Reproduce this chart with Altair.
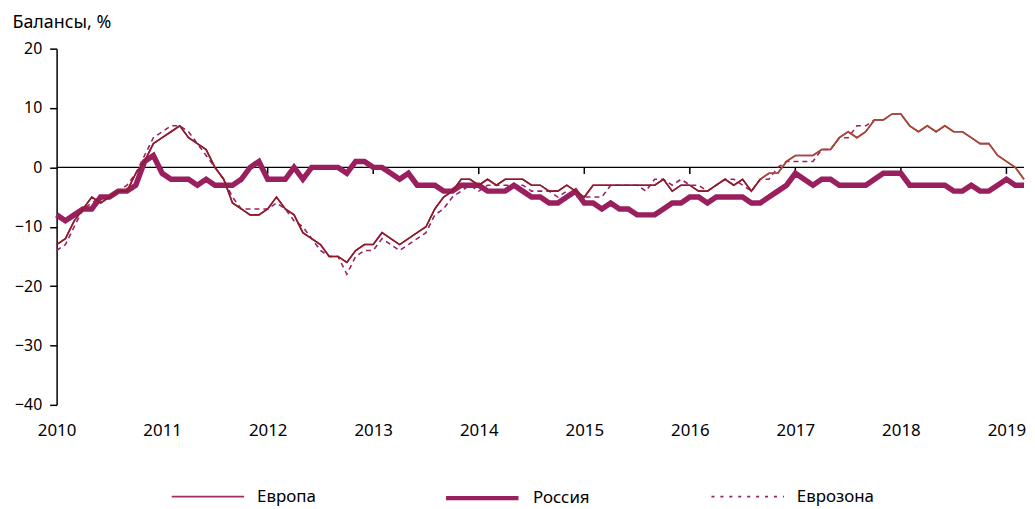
import altair as alt
import pandas as pd

START_YEAR = 2010
years = list(range(2010, 2020))

# monthly balances, Jan 2010 onwards
europe = [-13, -12, -9, -7, -5, -6, -5, -4, -4, -1, 1, 4,
          5, 6, 7, 5, 4, 3, 0, -2, -6, -7, -8, -8,
          -7, -5, -7, -8, -11, -12, -13, -15, -15, -16, -14, -13,
          -13, -11, -12, -13, -12, -11, -10, -7, -5, -4, -2, -2,
          -3, -2, -3, -2, -2, -2, -3, -3, -4, -4, -3, -4,
          -5, -3, -3, -3, -3, -3, -3, -3, -3, -2, -4, -3,
          -3, -4, -4, -3, -2, -3, -2, -4, -2, -1, -1, 1,
          2, 2, 2, 3, 3, 5, 6, 5, 6, 8, 8, 9,
          9, 7, 6, 7, 6, 7, 6, 6, 5, 4, 4, 2,
          1, 0, -2]
russia = [-8, -9, -8, -7, -7, -5, -5, -4, -4, -3, 1, 2,
          -1, -2, -2, -2, -3, -2, -3, -3, -3, -2, 0, 1,
          -2, -2, -2, 0, -2, 0, 0, 0, 0, -1, 1, 1,
          0, 0, -1, -2, -1, -3, -3, -3, -4, -4, -3, -3,
          -3, -4, -4, -4, -3, -4, -5, -5, -6, -6, -5, -4,
          -6, -6, -7, -6, -7, -7, -8, -8, -8, -7, -6, -6,
          -5, -5, -6, -5, -5, -5, -5, -6, -6, -5, -4, -3,
          -1, -2, -3, -2, -2, -3, -3, -3, -3, -2, -1, -1,
          -1, -3, -3, -3, -3, -3, -4, -4, -3, -4, -4, -3,
          -2, -3, -3]
eurozone = [-14, -13, -10, -7, -6, -5, -5, -4, -3, -1, 2, 5,
            6, 7, 7, 6, 4, 2, 0, -2, -5, -7, -7, -7,
            -7, -6, -7, -9, -10, -12, -14, -15, -15, -18, -15, -14,
            -14, -12, -13, -14, -13, -12, -11, -8, -7, -5, -4, -3,
            -4, -3, -3, -3, -3, -3, -4, -4, -4, -5, -4, -5,
            -5, -5, -5, -3, -3, -3, -3, -4, -2, -2, -3, -2,
            -3, -3, -4, -3, -2, -2, -3, -4, -2, -2, 0, 1,
            1, 1, 1, 3, 3, 5, 5, 7, 7, 8]
EUROPE_SWITCH = 80  # month index where the Europe line changes colour

FONT = "Noto Sans"
C_EU_EARLY = "#8C1C27"
C_EU_LATE = "#A84A30"
C_RU = "#9A1F5E"
C_EZ = "#9A2065"
C_EU_LEGEND = "#A22C68"


def frame(vals, name):
    return pd.DataFrame({
        "t": [START_YEAR + i / 12 for i in range(len(vals))],
        "v": vals,
        "series": name,
    })


df_ru = frame(russia, "Россия")
df_ez = frame(eurozone, "Еврозона")
df_eu = frame(europe, "Европа")
df_eu1 = df_eu.iloc[:EUROPE_SWITCH + 1]
df_eu2 = df_eu.iloc[EUROPE_SWITCH:]
ticks_df = pd.DataFrame({"t": years[1:]})

x_scale = alt.Scale(domain=[START_YEAR, START_YEAR + (len(europe) - 1) / 12], nice=False, zero=False)
y_scale = alt.Scale(domain=[-40, 20], nice=False, zero=False)

x_axis = alt.Axis(values=years, format="d", domain=False, ticks=False, grid=False,
                  labelPadding=18, labelFontSize=17, labelColor="black", labelFont=FONT,
                  labelFlush=False, labelOverlap=False, title=None)
y_axis = alt.Axis(values=list(range(-40, 21, 10)), grid=False, domainColor="black",
                  domainWidth=1.5, tickColor="black", tickWidth=1.5, tickSize=7,
                  labelPadding=8, labelFontSize=16, labelColor="black", labelFont=FONT,
                  title="Балансы, %", titleAngle=0, titleAlign="left",
                  titleBaseline="middle", titleX=-45, titleY=-26, titleFont=FONT,
                  titleFontSize=18, titleFontWeight="normal", titleColor="black")

X = alt.X("t:Q", scale=x_scale, axis=x_axis)
Y = alt.Y("v:Q", scale=y_scale, axis=y_axis)


def leg(x, width, dash=None):
    kw = dict(title=None, orient="none", legendX=x, legendY=414,
              symbolType="stroke", symbolSize=5329, symbolStrokeWidth=width,
              labelFont=FONT, labelFontSize=17, labelColor="black", labelOffset=12)
    if dash:
        kw["symbolDash"] = dash
    return alt.Legend(**kw)


def series_color(name, colour, legend):
    return alt.Color("series:N", scale=alt.Scale(domain=[name], range=[colour]), legend=legend)


zero_line = alt.Chart(pd.DataFrame({"v": [0]})).mark_rule(color="black", strokeWidth=1.5).encode(
    y=alt.Y("v:Q", scale=y_scale, axis=y_axis)
)
year_ticks = alt.Chart(ticks_df).mark_rule(color="black", strokeWidth=1.5).encode(
    x=alt.X("t:Q", scale=x_scale, axis=x_axis),
    y=alt.datum(0),
    y2=alt.datum(-1.1),
)

ru = alt.Chart(df_ru).mark_line(strokeWidth=5.5).encode(
    x=X, y=Y, color=series_color("Россия", C_RU, leg(390, 4.5)))
ez = alt.Chart(df_ez).mark_line(strokeWidth=1.6, strokeDash=[5, 4]).encode(
    x=X, y=Y, color=series_color("Еврозона", C_EZ, leg(659, 1.6, [3, 6])))
eu_legend = alt.Chart(df_eu).mark_line(strokeWidth=1.6).encode(
    x=X, y=Y, color=series_color("Европа", C_EU_LEGEND, leg(115, 1.6)))
eu1 = alt.Chart(df_eu1).mark_line(color=C_EU_EARLY, strokeWidth=1.6).encode(x=X, y=Y)
eu2 = alt.Chart(df_eu2).mark_line(color=C_EU_LATE, strokeWidth=1.6).encode(x=X, y=Y)

chart = alt.layer(zero_line, year_ticks, ru, ez, eu_legend, eu1, eu2).resolve_scale(
    color="independent"
).properties(
    width=975, height=359,
    padding={"left": 49, "top": 39, "right": 3, "bottom": 102},
    autosize=alt.AutoSizeParams(type="none"),
).configure_view(stroke=None)

chart.save("out.html", embed_options={"renderer": "svg", "actions": False})
